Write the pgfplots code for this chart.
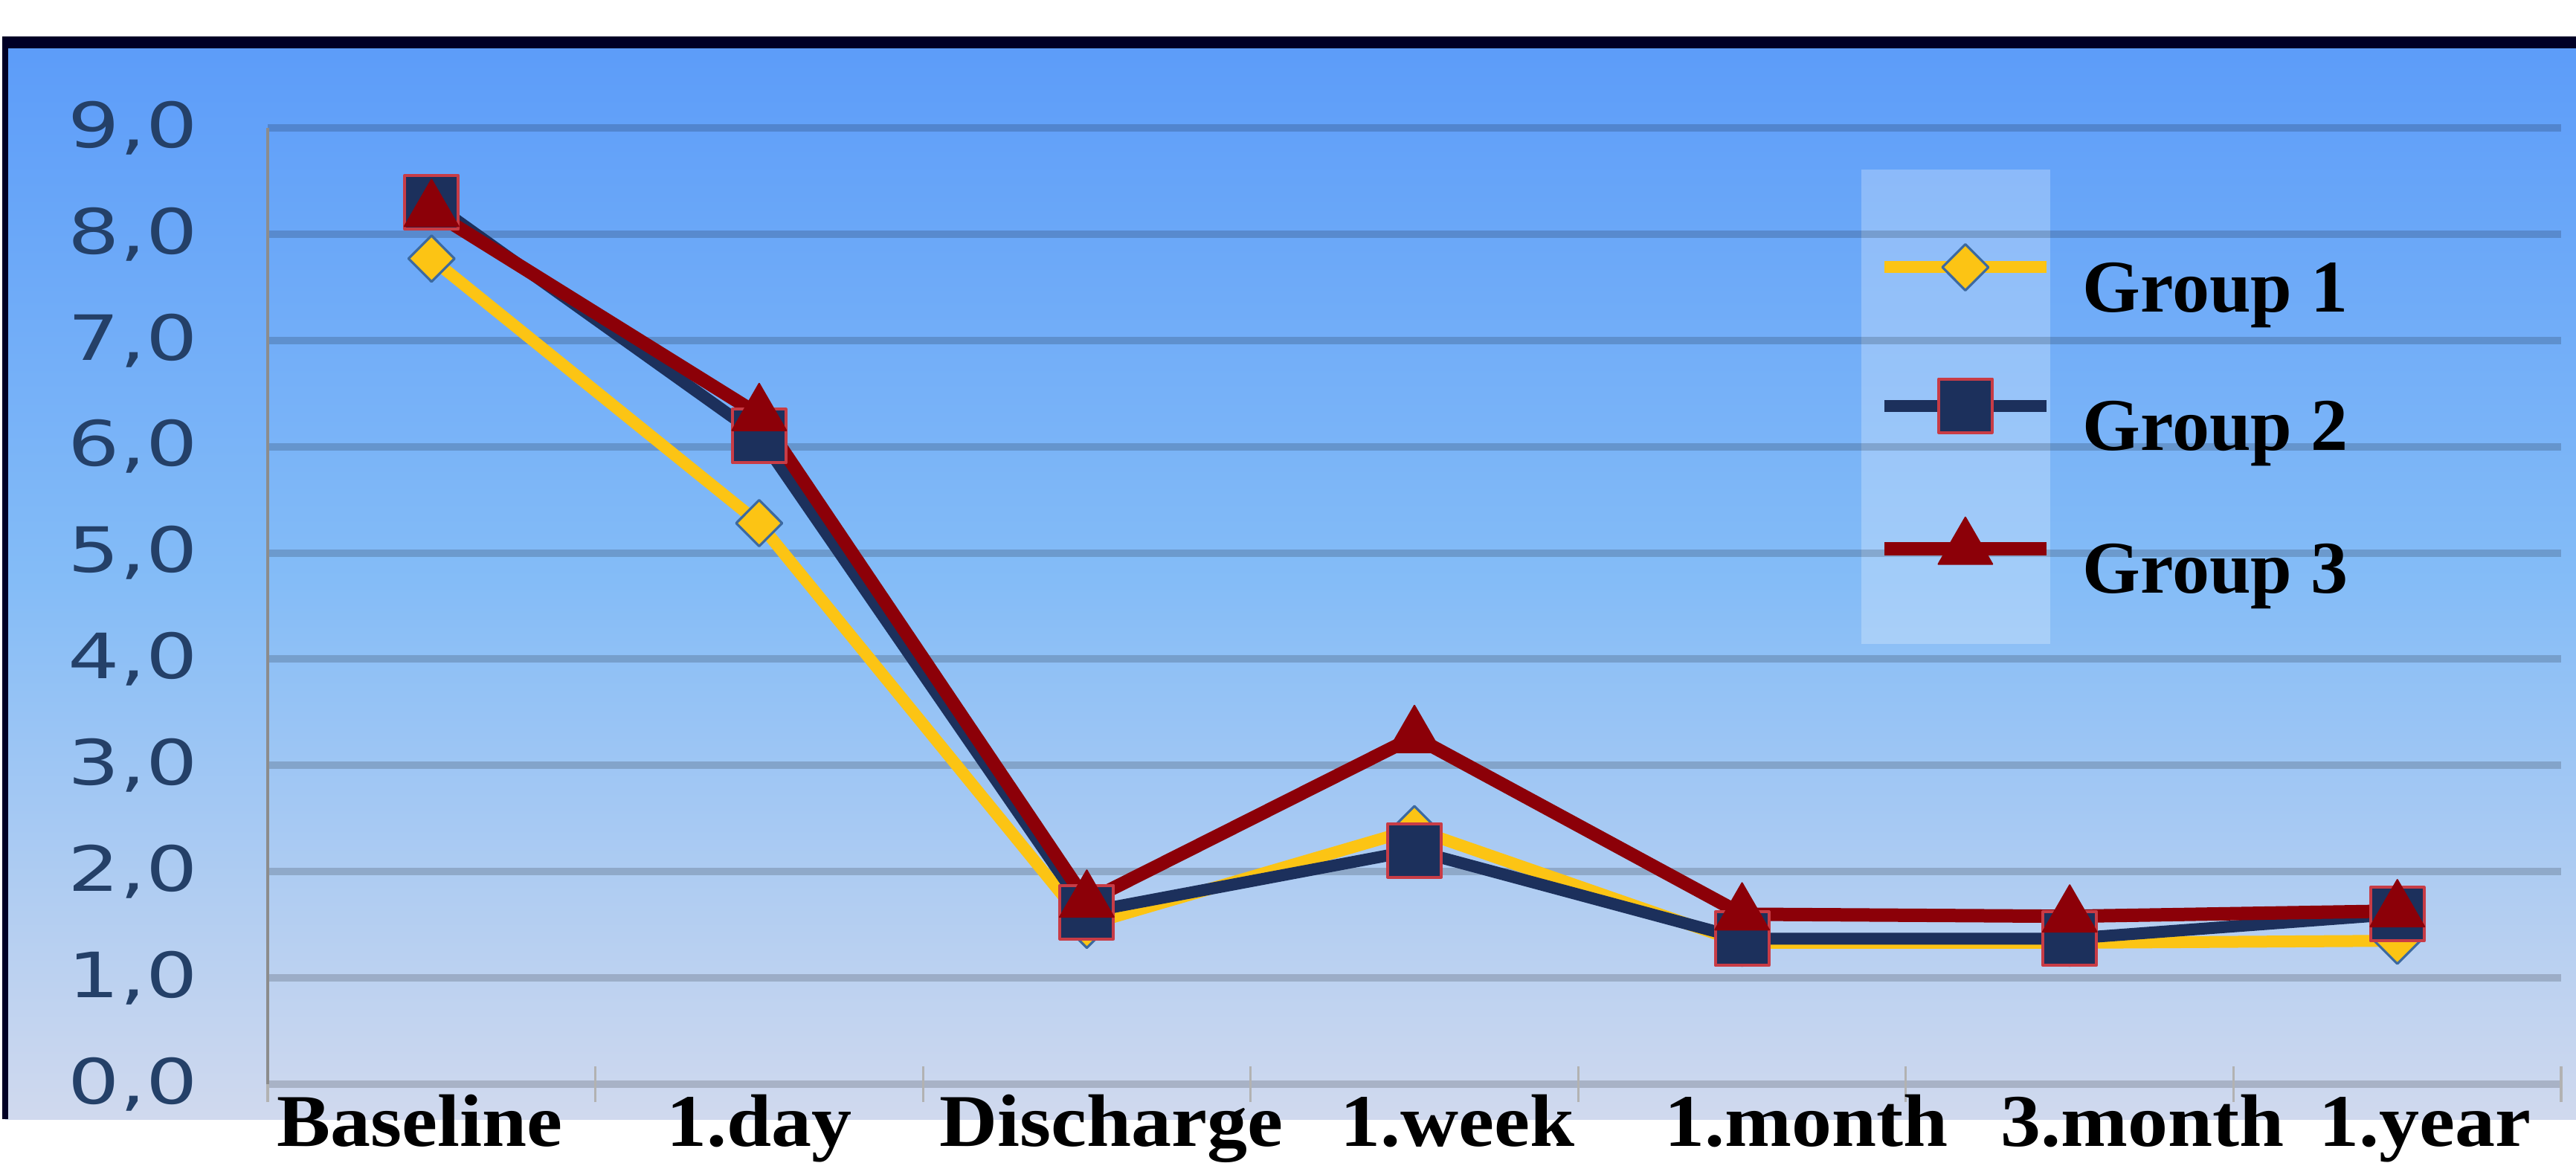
\documentclass[border=0pt]{standalone}
\usepackage{pgfplots}
\pgfplotsset{compat=1.18}
\usepackage{fontspec}
\setmainfont{Liberation Serif}
\newfontfamily\dejavu[FakeStretch=1.3]{DejaVu Sans}
\newfontfamily\xlabfont[FakeStretch=1.08]{Liberation Serif}
\definecolor{bgtop}{RGB}{92,156,249}
\definecolor{bgmid}{RGB}{132,188,247}
\definecolor{bgbot}{RGB}{208,217,238}
\definecolor{gold}{RGB}{252,196,20}
\definecolor{navy}{RGB}{28,48,92}
\definecolor{dred}{RGB}{140,0,8}
\definecolor{ticktext}{RGB}{36,64,104}
\definecolor{diaedge}{RGB}{60,105,160}
\definecolor{sqedge}{RGB}{200,60,70}
\begin{document}
\begin{tikzpicture}
\shade[top color=bgtop, bottom color=bgbot, middle color=bgmid] (1.75pt,14.5pt) rectangle (870pt,376.5pt);
\draw[line width=4pt, black!85!blue] (0.75pt,376.5pt) -- (870pt,376.5pt);
\draw[line width=2pt, black!85!blue] (1.75pt,378.5pt) -- (1.75pt,14.5pt);
\fill[white, opacity=0.25] (625.75pt,174.25pt) rectangle (689.25pt,333.75pt);
\begin{axis}[
  at={(90pt,26.25pt)}, anchor=south west,
  scale only axis, width=771pt, height=321.5pt,
  xmin=-0.5, xmax=6.5, ymin=0, ymax=9,
  xtick={0,...,6},
  xticklabels={{\hspace*{-7.8pt}Baseline},{1.day},{\hspace*{16.6pt}Discharge},{\hspace*{28.8pt}1.week},{\hspace*{43pt}1.month},{\hspace*{48.8pt}3.month},{\hspace*{18.5pt}1.year}},
  minor xtick={-0.5,0.5,...,6.5},
  ytick={0,...,9},
  yticklabels={{0,0},{1,0},{2,0},{3,0},{4,0},{5,0},{6,0},{7,0},{8,0},{9,0}},
  axis x line*=bottom, axis y line*=left,
  x axis line style={draw=none},
  y axis line style={draw=black!45, line width=0.8pt},
  major tick length=0pt,
  minor tick length=12pt,
  tick align=center,
  minor tick style={draw=black!30, line width=0.8pt},
  ymajorgrids,
  major grid style={draw=black, opacity=0.17, line width=2.5pt},
  yticklabel style={font=\dejavu\fontsize{21}{25}\selectfont, text=ticktext, inner sep=0pt, xshift=-23.4pt},
  xticklabel style={font=\xlabfont\fontsize{25}{30}\selectfont\bfseries, anchor=base, inner sep=0pt, yshift=-20.75pt},
  legend style={at={(0.7017,0.879)}, anchor=north west, draw=none, fill=none, inner sep=0pt,
     font=\fontsize{25}{29}\selectfont\bfseries, row sep=21pt,
     nodes={inner sep=0pt},
     /tikz/every odd column/.append style={column sep=10pt}},
  legend cell align=left,
  legend image code/.code={\draw[mark repeat=2,mark phase=2,#1] plot coordinates {(0pt,7.5pt) (27.25pt,7.5pt) (54.5pt,7.5pt)};},
]
\addplot[color=gold, line width=4pt, line join=round, mark=diamond*, mark size=7.75pt,
  mark options={xscale=1.33, fill=gold, draw=diaedge, line width=0.8pt, solid}]
  coordinates {(0,7.77) (1,5.28) (2,1.5) (3,2.4) (4,1.33) (5,1.33) (6,1.35)};
\addlegendentry{Group 1}
\addplot[color=navy, line width=4pt, line join=round, mark=square*, mark size=9pt,
  mark options={fill=navy, draw=sqedge, line width=1pt, solid}]
  coordinates {(0,8.3) (1,6.1) (2,1.62) (3,2.2) (4,1.37) (5,1.37) (6,1.6)};
\addlegendentry{Group 2}
\addplot[color=dred, line width=4.5pt, line join=round, mark=triangle*, mark size=10.5pt,
  mark options={fill=dred, draw=dred, line width=0.5pt, solid}]
  coordinates {(0,8.22) (1,6.3) (2,1.72) (3,3.27) (4,1.6) (5,1.58) (6,1.63)};
\addlegendentry{Group 3}
\end{axis}
\pgfresetboundingbox
\useasboundingbox (0,0) rectangle (866pt,390.75pt);
\end{tikzpicture}
\end{document}
